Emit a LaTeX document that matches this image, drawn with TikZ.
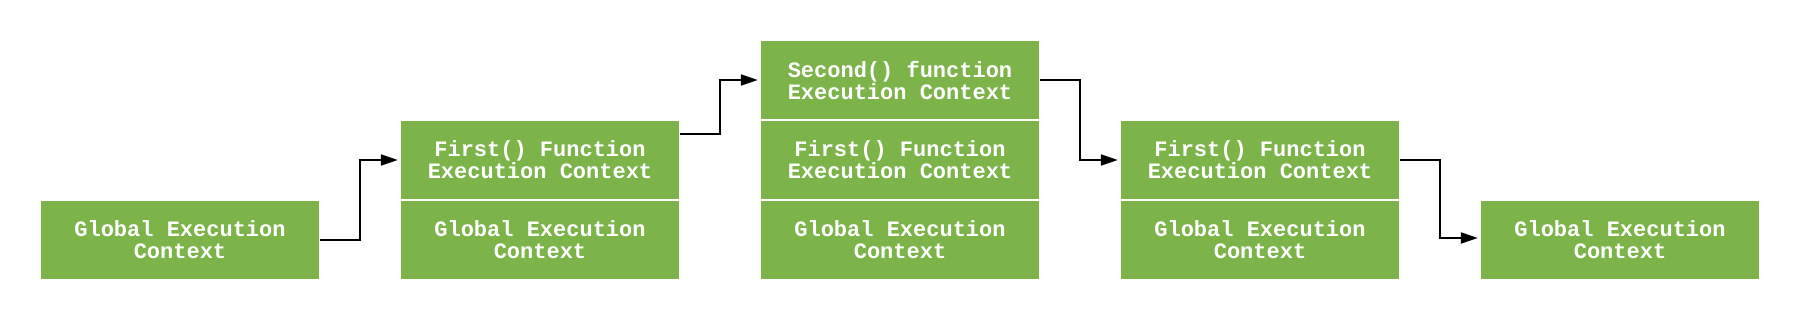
\documentclass[tikz,border=0pt]{standalone}
\usepackage{fontspec}
\newfontfamily\boxfont{Liberation Mono}
\usetikzlibrary{arrows.meta}
\definecolor{ecgreen}{RGB}{124,180,74}
\tikzset{
  cell/.style={rectangle, fill=ecgreen, draw=none, minimum width=278pt, minimum height=78pt,
    inner sep=0pt, align=center, text=white,
    font=\boxfont\bfseries\fontsize{22}{22}\selectfont},
  conn/.style={draw=black, line width=2pt, -{Triangle[length=17pt,width=11pt]}, shorten >=3pt}
}
\begin{document}
\begin{tikzpicture}[x=1pt,y=-1pt]
\useasboundingbox (0,0) rectangle (1800,320);
% stage 1
\node[cell] (g1) at (180,240) {Global Execution\\Context};
% stage 2
\node[cell] (g2) at (540,240) {Global Execution\\Context};
\node[cell] (f2) at (540,160) {First() Function\\Execution Context};
% stage 3
\node[cell] (g3) at (900,240) {Global Execution\\Context};
\node[cell] (f3) at (900,160) {First() Function\\Execution Context};
\node[cell] (s3) at (900,80) {Second() function\\Execution Context};
% stage 4
\node[cell] (g4) at (1260,240) {Global Execution\\Context};
\node[cell] (f4) at (1260,160) {First() Function\\Execution Context};
% stage 5
\node[cell] (g5) at (1620,240) {Global Execution\\Context};
% connectors
\draw[conn] ([xshift=1pt]g1.east) -- ++(40,0) |- (f2.west);
\draw[conn] ([xshift=1pt,yshift=26pt]f2.east) -- ++(40,0) |- (s3.west);
\draw[conn] ([xshift=1pt]s3.east) -- ++(40,0) |- (f4.west);
\draw[conn] ([xshift=1pt]f4.east) -- ++(40,0) |- ([yshift=2pt]g5.west);
\end{tikzpicture}
\end{document}
